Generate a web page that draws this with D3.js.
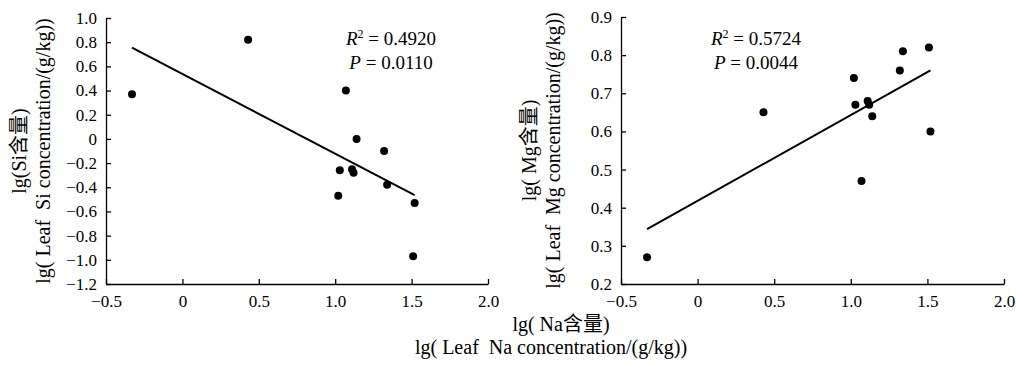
<!DOCTYPE html>
<meta charset="utf-8">
<script src="https://d3js.org/d3.v7.min.js"></script>
<style>
  body { margin: 0; background: #fff; }
  text { font-family: "Liberation Serif", "Noto Sans CJK SC", serif; fill: #000; }
</style>
<svg id="chart" width="1016" height="366"></svg>
<script>
// leaf Na content (x for each panel)
var naValues = [-0.33, 0.43, 1.07, 1.14, 1.32, 1.03, 1.11, 1.12, 1.34, 1.02, 1.52, 1.51];
var siValues = [0.37, 0.82, 0.40, 0.00, -0.10, -0.26, -0.25, -0.28, -0.38, -0.47, -0.53, -0.97];

var naValuesMg = [-0.33, 0.43, 1.02, 1.03, 1.11, 1.12, 1.14, 1.07, 1.32, 1.34, 1.51, 1.52];
var mgValues = [0.27, 0.65, 0.74, 0.67, 0.68, 0.67, 0.64, 0.47, 0.76, 0.81, 0.82, 0.60];

var xTicks = [-0.5, 0, 0.5, 1.0, 1.5, 2.0];
var siTicks = [-1.2, -1.0, -0.8, -0.6, -0.4, -0.2, 0, 0.2, 0.4, 0.6, 0.8, 1.0];
var mgTicks = [0.2, 0.3, 0.4, 0.5, 0.6, 0.7, 0.8, 0.9];

var siStats = ["0.4920", "0.0110"];
var mgStats = ["0.5724", "0.0044"];

var svg = d3.select("#chart");

function fmt(d) {
  return d === 0 ? "0" : d3.format(".1f")(d);
}

// least squares fit
function fit(xs, ys) {
  var mx = d3.mean(xs), my = d3.mean(ys);
  var sxy = d3.sum(xs, function(x, i) { return (x - mx) * (ys[i] - my); });
  var sxx = d3.sum(xs, function(x) { return (x - mx) * (x - mx); });
  var b = sxy / sxx;
  return { b: b, a: my - b * mx };
}

function panel(opt) {
  var x = d3.scaleLinear().domain([-0.5, 2.0]).range([opt.left, opt.right]);
  var y = d3.scaleLinear().domain(opt.yDomain).range([284, opt.top]);

  var g = svg.append("g");

  var xa = g.append("g")
    .attr("transform", "translate(0,284)")
    .call(d3.axisBottom(x).tickValues(xTicks).tickFormat(fmt)
      .tickSizeInner(-5).tickSizeOuter(0).tickPadding(11));
  var ya = g.append("g")
    .attr("transform", "translate(" + opt.left + ",0)")
    .call(d3.axisLeft(y).tickValues(opt.yTicks).tickFormat(fmt)
      .tickSizeInner(-5).tickSizeOuter(0).tickPadding(9));

  [xa, ya].forEach(function(a) {
    a.attr("font-size", null).attr("font-family", null);
    a.selectAll("path, line").attr("stroke", "#000").attr("stroke-width", 1.3);
    a.selectAll("text").style("font-size", "17px").attr("fill", "#000");
  });

  // fitted line
  var f = fit(opt.xs, opt.ys);
  var ext = d3.extent(opt.xs);
  g.append("line")
    .attr("x1", x(ext[0])).attr("y1", y(f.a + f.b * ext[0]))
    .attr("x2", x(ext[1])).attr("y2", y(f.a + f.b * ext[1]))
    .attr("stroke", "#000").attr("stroke-width", 2);

  g.selectAll("circle")
    .data(opt.xs)
    .enter().append("circle")
    .attr("cx", function(d) { return x(d); })
    .attr("cy", function(d, i) { return y(opt.ys[i]); })
    .attr("r", 4)
    .attr("fill", "#000");

  // R2 / P text
  var t1 = g.append("text").attr("x", opt.statX).attr("y", 45)
    .attr("text-anchor", "middle").style("font-size", "19px");
  t1.append("tspan").attr("font-style", "italic").text("R");
  t1.append("tspan").style("font-size", "12px").attr("dy", -7).text("2");
  t1.append("tspan").attr("dy", 7).text(" = " + opt.stats[0]);

  var t2 = g.append("text").attr("x", opt.statX).attr("y", 69)
    .attr("text-anchor", "middle").style("font-size", "19px");
  t2.append("tspan").attr("font-style", "italic").text("P");
  t2.append("tspan").text(" = " + opt.stats[1]);

  // y label, two lines
  var cy = (284 + opt.top) / 2;
  var yl = g.append("text")
    .attr("transform", "translate(" + opt.labelX + "," + cy + ") rotate(-90)")
    .attr("text-anchor", "middle").style("font-size", "20px");
  yl.append("tspan").attr("x", 0).attr("y", 0).text(opt.label1);
  yl.append("tspan").attr("x", 0).attr("y", 24).text(opt.label2);
}

panel({
  left: 106, right: 488, top: 18,
  yDomain: [-1.2, 1.0], yTicks: siTicks,
  xs: naValues, ys: siValues,
  stats: siStats, statX: 391,
  labelX: 26,
  label1: "lg(Si含量)",
  label2: "lg(\u00a0Leaf\u00a0\u00a0Si concentration/(g/kg))"
});

panel({
  left: 621, right: 1004, top: 17,
  yDomain: [0.2, 0.9], yTicks: mgTicks,
  xs: naValuesMg, ys: mgValues,
  stats: mgStats, statX: 756,
  labelX: 536,
  label1: "lg(\u00a0Mg含量)",
  label2: "lg(\u00a0Leaf\u00a0\u00a0Mg concentration/(g/kg))"
});

// shared x label
var xl = svg.append("text").attr("text-anchor", "middle").style("font-size", "20px");
xl.append("tspan").attr("x", 561).attr("y", 331).text("lg(\u00a0Na含量)");
xl.append("tspan").attr("x", 551).attr("y", 354).text("lg(\u00a0Leaf\u00a0\u00a0Na concentration/(g/kg))");
</script>
